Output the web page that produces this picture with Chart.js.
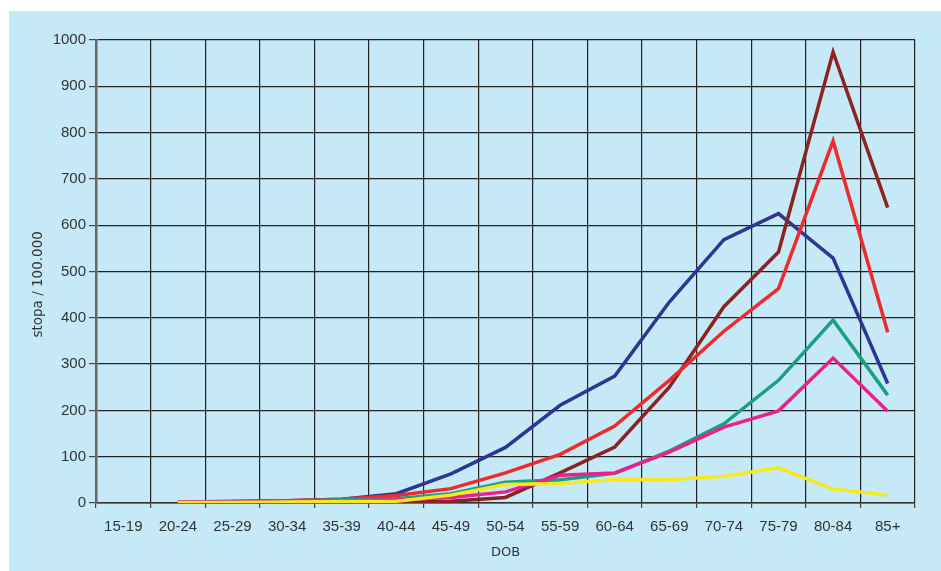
<!DOCTYPE html>
<html lang="hr">

<head>
    <meta charset="UTF-8">
    <title>stopa / 100.000</title>
    <style>
        body { margin: 0; background: #fff; }
        #wrap { position: absolute; left: 9px; top: 11px; width: 932px; height: 560px; background: #c6e9f8; }
    </style>
</head>

<body>
    <div id="wrap"><canvas id="rateCanvas"></canvas></div>

    <script src="https://cdn.jsdelivr.net/npm/chart.js@4/dist/chart.umd.min.js" charset="UTF-8"></script>
    <script>
        // dobne skupine
        const ageGroups = ['15-19', '20-24', '25-29', '30-34', '35-39', '40-44', '45-49', '50-54',
            '55-59', '60-64', '65-69', '70-74', '75-79', '80-84', '85+'];
        const yTicks = [0, 100, 200, 300, 400, 500, 600, 700, 800, 900, 1000];

        // stopa / 100.000, procijenjeno sa slike
        const blueSeries = [null, 2, 3, 5, 8, 20, 63, 120, 211, 274, 434, 569, 625, 529, 258];
        const redSeries = [null, 2, 3, 5, 8, 16, 31, 65, 105, 166, 265, 371, 463, 782, 369];
        const brownSeries = [null, 1, 2, 2, 3, 1, 4, 12, 65, 121, 250, 424, 542, 974, 638];
        const greenSeries = [null, 1, 2, 4, 7, 9, 20, 45, 50, 64, 112, 171, 265, 395, 233];
        const pinkSeries = [null, 2, 2, 3, 5, 7, 12, 24, 60, 65, 110, 164, 199, 313, 198];
        const yellowSeries = [null, 1, 1, 2, 3, 4, 17, 40, 42, 51, 50, 58, 76, 30, 17];

        function line(data, color, order) {
            return {
                data: data,
                borderColor: color,
                backgroundColor: color,
                borderWidth: 3.5,
                pointRadius: 0,
                tension: 0,
                fill: false,
                order: order
            };
        }

        var ctx = document.getElementById('rateCanvas').getContext('2d');
        var rateChart = new Chart(ctx, {
            type: 'line',
            data: {
                labels: ageGroups,
                datasets: [
                    line(blueSeries, '#2e3592', 6),
                    line(brownSeries, '#8b2420', 5),
                    line(redSeries, '#ee2b2b', 4),
                    line(greenSeries, '#1b9e82', 3),
                    line(pinkSeries, '#e8218c', 2),
                    line(yellowSeries, '#f7e81e', 1)
                ]
            },
            options: {
                responsive: true,
                maintainAspectRatio: false,
                animation: false,
                layout: { padding: { top: 29, right: 26, left: 0, bottom: 0 } },
                plugins: { legend: { display: false }, tooltip: { enabled: false } },
                scales: {
                    x: {
                        offset: true,
                        grid: { offset: true, color: '#222', lineWidth: 1.2, tickLength: 5, tickColor: '#444' },
                        border: { color: '#333', width: 1.5 },
                        ticks: {
                            padding: 10, color: '#333', maxRotation: 0, autoSkip: false,
                            font: { family: 'Liberation Sans', size: 15 }
                        },
                        title: {
                            display: true, text: 'DOB', color: '#333',
                            font: { family: 'DejaVu Sans', size: 13 }, padding: { top: 0, bottom: 11 }
                        },
                        afterFit: function (scale) { scale.height = 68; }
                    },
                    y: {
                        min: 0,
                        max: 1000,
                        afterBuildTicks: function (scale) {
                            scale.ticks = yTicks.map(v => ({ value: v }));
                        },
                        grid: { color: '#222', lineWidth: 1.2, tickLength: 7, tickColor: '#444' },
                        border: { color: '#666', width: 2.5 },
                        ticks: {
                            padding: 3, color: '#333',
                            font: { family: 'Liberation Sans', size: 15 },
                            callback: function (value) { return String(value); }
                        },
                        title: {
                            // trailing spaces nudge the rotated title a bit lower, as in the original
                            display: true, text: 'stopa / 100.000      ', color: '#333',
                            font: { family: 'DejaVu Sans', size: 13.5 }, padding: { top: 21, bottom: 0 }
                        },
                        afterFit: function (scale) { scale.width = 87; }
                    }
                }
            }
        });
    </script>
</body>

</html>
